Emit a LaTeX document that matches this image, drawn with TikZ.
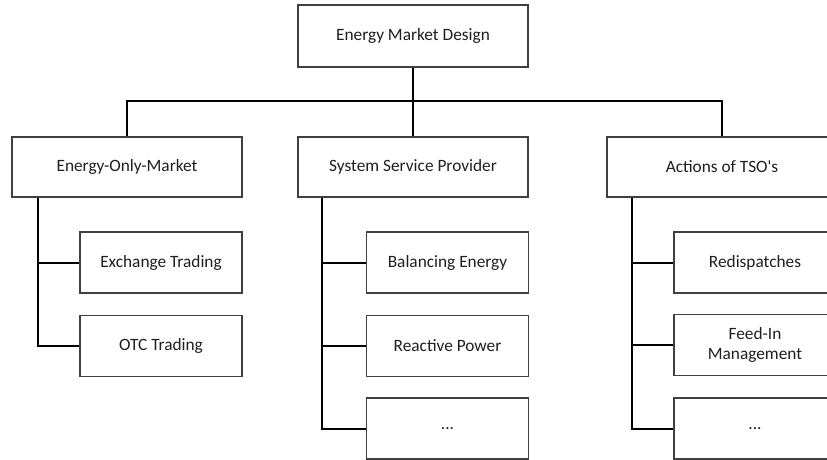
\documentclass[tikz,border=0pt]{standalone}
\usepackage{fontspec}
\setmainfont{Carlito}
\usetikzlibrary{calc}
\definecolor{boxline}{HTML}{404040}
\definecolor{txt}{HTML}{1F1F1F}
\begin{document}
\begin{tikzpicture}[x=1pt,y=-1pt,
  box/.style={draw=boxline, line width=1.3pt, fill=white, text=txt,
    font=\fontsize{17.3}{20}\selectfont, align=center, inner sep=0pt},
  topbox/.style={box, minimum width=230pt, minimum height=62pt},
  subbox/.style={box, minimum width=162pt, minimum height=61pt},
  link/.style={draw=black, line width=2pt}]
\useasboundingbox (0,0) rectangle (827,459);
\clip (0,0) rectangle (827,459);

% root and the three branches
\node[topbox] (root) at (413,36) {Energy Market Design};
\node[topbox, minimum height=60pt] (eom) at (127,167) {Energy-Only-Market};
\node[topbox, minimum height=60pt] (ssp) at (413,167) {System Service Provider};
\node[topbox, minimum height=60pt] (tso) at (722,167) {Actions of TSO\textquotesingle s};

% leaves
\node[subbox] (ex)  at (161,262.5) {Exchange Trading};
\node[subbox] (otc) at (161,346)   {OTC Trading};
\node[subbox] (bal) at (447.5,262.5) {Balancing Energy};
\node[subbox] (rea) at (447.5,346)   {Reactive Power};
\node[subbox] (sdt) at (447.5,428.5) {...};
\node[subbox] (red) at (755,262.5) {Redispatches};
\node[subbox] (fim) at (755,345)   {Feed-In\\Management};
\node[subbox] (tdt) at (755,428.5) {...};

% bus from the root to the branches
\coordinate (busL) at (127,101);
\coordinate (busR) at (722,101);
\draw[link] (eom.north) -- (busL) -- (busR) -- (tso.north);
\draw[link] (root.south) -- (ssp.north);

% trunks down each branch
\coordinate (tL) at ($(eom.south west)+(27,0)$);
\coordinate (tM) at ($(ssp.south west)+(25,0)$);
\coordinate (tR) at ($(tso.south west)+(26,0)$);
\draw[link] (tL) |- (otc.west);
\draw[link] (tL |- ex.west) -- (ex.west);
\draw[link] (tM) |- (sdt.west);
\draw[link] (tM |- bal.west) -- (bal.west);
\draw[link] (tM |- rea.west) -- (rea.west);
\draw[link] (tR) |- (tdt.west);
\draw[link] (tR |- red.west) -- (red.west);
\draw[link] (tR |- fim.west) -- (fim.west);
\end{tikzpicture}
\end{document}
